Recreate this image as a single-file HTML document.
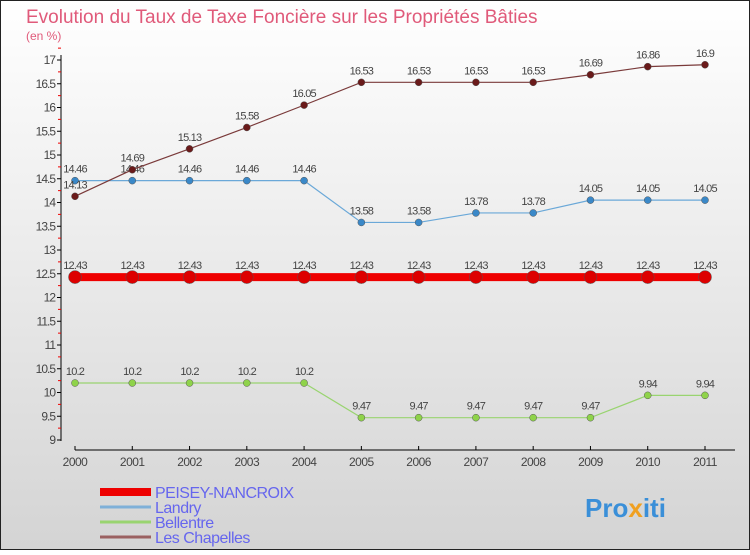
<!DOCTYPE html>
<html><head><meta charset="utf-8"><style>
body{margin:0;width:750px;height:550px;overflow:hidden;font-family:"Liberation Sans",sans-serif}
svg text{font-family:"Liberation Sans",sans-serif}
</style></head><body>
<svg id="c" width="750" height="550" xmlns="http://www.w3.org/2000/svg">
<defs><linearGradient id="bg" x1="0" y1="0" x2="0" y2="1"><stop offset="0" stop-color="#ffffff"/><stop offset="1" stop-color="#d4d4d4"/></linearGradient></defs>
<rect x="0.5" y="0.5" width="749" height="549" fill="url(#bg)" stroke="#222"/>
<text x="26" y="23" font-size="19" fill="#e05a7a">Evolution du Taux de Taxe Foncière sur les Propriétés Bâties</text>
<text x="26" y="40" font-size="12" fill="#e05a7a">(en %)</text>
<g id="axes"></g><g id="series"></g><g id="legend"></g>
<text x="585" y="517" font-size="26" font-weight="bold" fill="#3a8fd8">Pro<tspan fill="#f0a020">x</tspan>iti</text>
</svg>
<script>
const years=[2000,2001,2002,2003,2004,2005,2006,2007,2008,2009,2010,2011];
const peisey=[12.43,12.43,12.43,12.43,12.43,12.43,12.43,12.43,12.43,12.43,12.43,12.43];
const landry=[14.46,14.46,14.46,14.46,14.46,13.58,13.58,13.78,13.78,14.05,14.05,14.05];
const bellentre=[10.2,10.2,10.2,10.2,10.2,9.47,9.47,9.47,9.47,9.47,9.94,9.94];
const chapelles=[14.13,14.69,15.13,15.58,16.05,16.53,16.53,16.53,16.53,16.69,16.86,16.9];
const yTicks=[9,9.5,10,10.5,11,11.5,12,12.5,13,13.5,14,14.5,15,15.5,16,16.5,17];
const NS="http://www.w3.org/2000/svg";
const X=i=>75+i*(705-75)/(years.length-1);
const Y=v=>440-(v-9)*(440-60)/8;
function mk(t,a,p){const e=document.createElementNS(NS,t);for(const k in a)e.setAttribute(k,a[k]);p.appendChild(e);return e;}
const ax=document.getElementById('axes');
let yl=mk('line',{x1:61,y1:55,x2:61,y2:441,stroke:'#000'},ax);


yTicks.forEach(v=>{
 mk('line',{x1:57,y1:Y(v),x2:61,y2:Y(v),stroke:'#000'},ax);
 mk('line',{x1:58,y1:Y(v+0.25),x2:61,y2:Y(v+0.25),stroke:'#e00'},ax);
 const t=mk('text',{x:55,y:Y(v)+4,'font-size':12,'text-anchor':'end',fill:'#444','letter-spacing':'-1'},ax);
 t.textContent=v;
 
 
});
let xl=mk('line',{x1:75,y1:450,x2:735,y2:450,stroke:'#000'},ax);


years.forEach((y,i)=>{
 mk('line',{x1:X(i),y1:446,x2:X(i),y2:450,stroke:'#000'},ax);
 const t=mk('text',{x:X(i),y:466,'font-size':12,'text-anchor':'middle',fill:'#444','letter-spacing':'-0.5'},ax);
 t.textContent=y;
 
 
});
const sg=document.getElementById('series');
function series(name,data,color,w,r,dot){
 const g=mk('g',{},sg);
 
 
 mk('polyline',{points:data.map((v,i)=>X(i)+','+Y(v)).join(' '),fill:'none',stroke:color,'stroke-width':w},g);
 data.forEach((v,i)=>{
  const c=mk('circle',{cx:X(i),cy:Y(v),r:r,fill:dot,stroke:'#555','stroke-width':0.5},g);
  
  
  const t=mk('text',{x:X(i),y:Y(v)-8,'font-size':11,'text-anchor':'middle',fill:'#444','letter-spacing':'-0.8'},g);
  t.textContent=v;
  
  
 });
}
series('bellentre',bellentre,'#99d470',1.2,3.5,'#8fd34a');
series('peisey-nancroix',peisey,'#ee0000',8,6.5,'#dd0000');
series('landry',landry,'#6aa8d8',1.2,3.5,'#3a88c8');
series('les-chapelles',chapelles,'#7a3a3a',1.2,3.5,'#6a1a1a');
const lg=document.getElementById('legend');
[['PEISEY-NANCROIX','#ee0000',8],['Landry','#7fb0d8',3],['Bellentre','#99d470',3],['Les Chapelles','#9a6060',3]].forEach((d,i)=>{
 const y=492+i*15;
 const g=mk('g',{},lg);
 
 
 mk('line',{x1:100,y1:y,x2:151,y2:y,stroke:d[1],'stroke-width':d[2]},g);
 const t=mk('text',{x:155,y:y+6,'font-size':16,fill:'#6666ee','letter-spacing':'-0.5'},g);
 t.textContent=d[0];
});
</script>
</body></html>
